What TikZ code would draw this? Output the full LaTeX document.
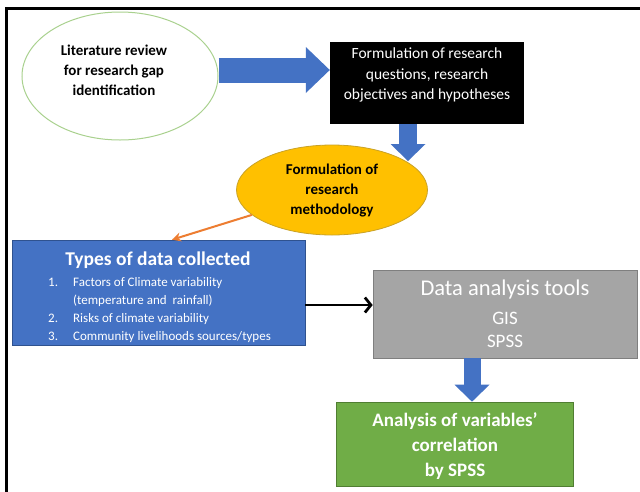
\documentclass[tikz,border=0pt]{standalone}
\usepackage{fontspec}
\setmainfont{Carlito}
\usetikzlibrary{shapes.geometric,arrows.meta,calc}
\definecolor{oblue}{HTML}{4472C4}
\definecolor{oblueb}{HTML}{2F528F}
\definecolor{ogreen}{HTML}{70AD47}
\definecolor{ogreenb}{HTML}{507E32}
\definecolor{lgreen}{HTML}{A9D18E}
\definecolor{ogold}{HTML}{FFC000}
\definecolor{ogoldb}{HTML}{C9A227}
\definecolor{oorange}{HTML}{ED7D31}
\definecolor{ogray}{HTML}{A5A5A5}
\definecolor{ograyb}{HTML}{7F7F7F}
\begin{document}
\begin{tikzpicture}[x=1pt,y=-1pt,
  ell/.style={ellipse,inner sep=0pt},
  etext/.style={align=center,inner sep=0pt,font=\fontsize{15}{20}\selectfont\bfseries},
  rbox/.style={rectangle,inner sep=0pt,align=center},
  fatarrow/.style={draw=oblue,line width=#1},
  hhead/.style={-{Triangle[length=24pt 0 0,width=46pt 0 0,line width=0pt]}},
  vhead/.style={-{Triangle[length=17pt 0 0,width=35pt 0 0,line width=0pt]}}
]
\useasboundingbox (0,0) rectangle (640,491);
\fill[white] (0,0) rectangle (640,491);
\draw[line width=3pt] (6.5,700) -- (6.5,8.5) -- (700,8.5);

\node[ell,draw=lgreen,line width=1pt,minimum width=196pt,minimum height=128pt] (lit) at (120,76) {};
\node[etext] (litt) at (114,70) {Literature review\\for research gap\\identification};
\node[rbox,fill=black,minimum width=194pt,minimum height=82pt] (form) at (427,83) {};
\node[text=white,align=center,inner sep=0pt,font=\fontsize{15.5}{20.5}\selectfont] (formt) at (427,75)
  {Formulation of research\\questions, research\\objectives and hypotheses};
\node[ell,fill=ogold,draw=ogoldb,line width=0.8pt,minimum width=191pt,minimum height=90pt] (meth) at (332,190) {};
\node[etext] (metht) at (332,190) {Formulation of\\research\\methodology};
\node[rbox,fill=oblue,draw=oblueb,line width=0.6pt,minimum width=293pt,minimum height=105pt] (data) at (158.5,292.5) {};
\node[text=white,font=\fontsize{19.5}{22}\selectfont\bfseries] (datat) at (158,260) {Types of data collected};
\node[text=white,anchor=north west,align=left,inner sep=0pt,font=\fontsize{13}{18}\selectfont] (datal) at (48,277)
  {\makebox[25pt][l]{1.}Factors of Climate variability\\
   \makebox[25pt][l]{}(temperature and\ \ rainfall)\\
   \makebox[25pt][l]{2.}Risks of climate variability\\
   \makebox[25pt][l]{3.}Community livelihoods sources/types};
\node[rbox,fill=ogray,draw=ograyb,line width=0.6pt,minimum width=264pt,minimum height=88pt] (tools) at (505,314) {};
\node[text=white,inner sep=0pt,font=\fontsize{22.5}{24}\selectfont] (toolst) at (505,289) {Data analysis tools};
\node[text=white,align=center,inner sep=0pt,font=\fontsize{19}{23}\selectfont] (toolsl) at (505,330) {GIS\\SPSS};
\node[rbox,fill=ogreen,draw=ogreenb,line width=0.6pt,minimum width=237pt,minimum height=84pt] (corr) at (455,444) {};
\node[text=white,align=center,inner sep=0pt,font=\fontsize{19}{25}\selectfont\bfseries] (corrt) at (455,446)
  {Analysis of variables'\\correlation\\by SPSS};

\coordinate (m1) at (408,161);
\draw[fatarrow=25pt,hhead] (lit.east |- 0,70) -- (form.west |- 0,70);
\draw[fatarrow=18pt,vhead] (form.south -| m1) -- (m1);
\draw[oorange,line width=2pt,-{Stealth[length=9pt,width=9pt]}] (meth) -- (data.north -| 172,0);
\draw[black,line width=2.8pt,-{Straight Barb[length=6pt,width=15pt]}] (data.east |- 0,305) -- (tools.west |- 0,305);
\draw[fatarrow=17pt,vhead] (tools.south -| 472,0) -- (corr.north -| 472,0);
\end{tikzpicture}
\end{document}
